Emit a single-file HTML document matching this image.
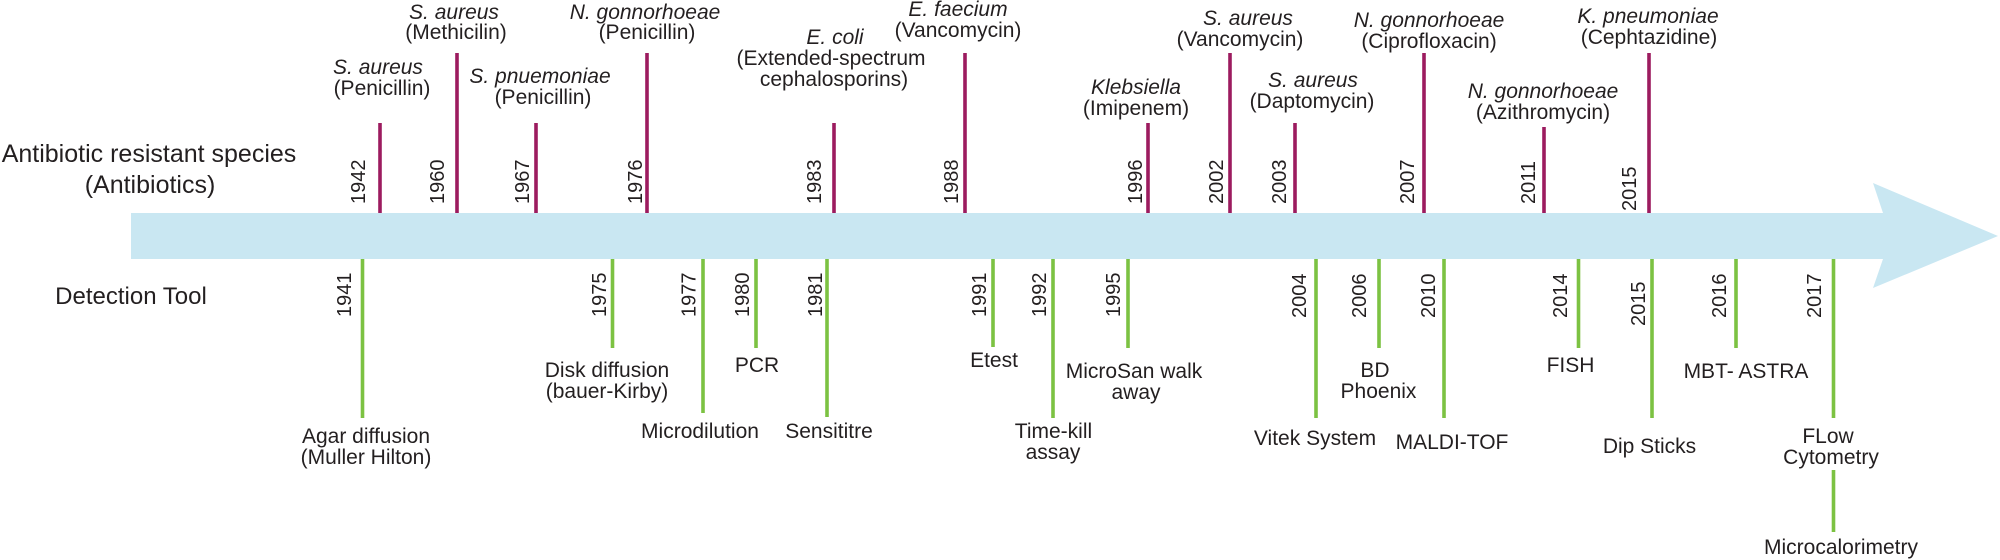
<!DOCTYPE html>
<html>
<head>
<meta charset="utf-8">
<style>
  html, body { margin: 0; padding: 0; background: #ffffff; }
  svg { display: block; }
  text { font-family: "Liberation Sans", Arial, sans-serif; fill: #231f20; }
  .lab { font-size: 21px; text-anchor: middle; }
  .it { font-style: italic; }
  .yr { font-size: 20px; }
  .hd { font-size: 25px; text-anchor: middle; }
  .mg { stroke: #9c1b5f; stroke-width: 3.6; }
  .gr { stroke: #7cc242; stroke-width: 3.6; }
</style>
</head>
<body>
<svg width="2000" height="560" viewBox="0 0 2000 560" xmlns="http://www.w3.org/2000/svg">
  <!-- Arrow -->
  <polygon points="131,213 1883,213 1873,183 1998,236 1873,288 1883,259 131,259" fill="#c9e7f2"/>

  <!-- Headings -->
  <text class="hd" x="149" y="162">Antibiotic resistant species</text>
  <text class="hd" x="150" y="193">(Antibiotics)</text>
  <text x="131" y="304" style="font-size:24px;text-anchor:middle">Detection Tool</text>

  <!-- Magenta (top) lines -->
  <line class="mg" x1="380" y1="123" x2="380" y2="213"/>
  <line class="mg" x1="457" y1="53" x2="457" y2="213"/>
  <line class="mg" x1="536" y1="123" x2="536" y2="213"/>
  <line class="mg" x1="647" y1="53" x2="647" y2="213"/>
  <line class="mg" x1="834" y1="123" x2="834" y2="213"/>
  <line class="mg" x1="965" y1="53" x2="965" y2="213"/>
  <line class="mg" x1="1148" y1="123" x2="1148" y2="213"/>
  <line class="mg" x1="1230" y1="53" x2="1230" y2="213"/>
  <line class="mg" x1="1295" y1="123" x2="1295" y2="213"/>
  <line class="mg" x1="1424" y1="53" x2="1424" y2="213"/>
  <line class="mg" x1="1544" y1="127" x2="1544" y2="213"/>
  <line class="mg" x1="1649" y1="53" x2="1649" y2="213"/>

  <!-- Top years -->
  <text class="yr" x="365" y="204" transform="rotate(-90 365 204)">1942</text>
  <text class="yr" x="444" y="204" transform="rotate(-90 444 204)">1960</text>
  <text class="yr" x="529" y="204" transform="rotate(-90 529 204)">1967</text>
  <text class="yr" x="642" y="204" transform="rotate(-90 642 204)">1976</text>
  <text class="yr" x="821" y="204" transform="rotate(-90 821 204)">1983</text>
  <text class="yr" x="958" y="204" transform="rotate(-90 958 204)">1988</text>
  <text class="yr" x="1142" y="204" transform="rotate(-90 1142 204)">1996</text>
  <text class="yr" x="1223" y="204" transform="rotate(-90 1223 204)">2002</text>
  <text class="yr" x="1286" y="204" transform="rotate(-90 1286 204)">2003</text>
  <text class="yr" x="1414" y="204" transform="rotate(-90 1414 204)">2007</text>
  <text class="yr" x="1535" y="204" transform="rotate(-90 1535 204)">2011</text>
  <text class="yr" x="1636" y="211" transform="rotate(-90 1636 211)">2015</text>

  <!-- Top labels -->
  <text class="lab it" x="378" y="74">S. aureus</text>
  <text class="lab" x="382" y="95">(Penicillin)</text>

  <text class="lab it" x="454" y="19">S. aureus</text>
  <text class="lab" x="456" y="39">(Methicilin)</text>

  <text class="lab it" x="540" y="83">S. pnuemoniae</text>
  <text class="lab" x="543" y="104">(Penicillin)</text>

  <text class="lab it" x="645" y="19">N. gonnorhoeae</text>
  <text class="lab" x="647" y="39">(Penicillin)</text>

  <text class="lab it" x="835" y="44">E. coli</text>
  <text class="lab" x="831" y="65">(Extended-spectrum</text>
  <text class="lab" x="834" y="86">cephalosporins)</text>

  <text class="lab it" x="958" y="16">E. faecium</text>
  <text class="lab" x="958" y="37">(Vancomycin)</text>

  <text class="lab it" x="1136" y="94">Klebsiella</text>
  <text class="lab" x="1136" y="115">(Imipenem)</text>

  <text class="lab it" x="1248" y="25">S. aureus</text>
  <text class="lab" x="1240" y="46">(Vancomycin)</text>

  <text class="lab it" x="1313" y="87">S. aureus</text>
  <text class="lab" x="1312" y="108">(Daptomycin)</text>

  <text class="lab it" x="1429" y="27">N. gonnorhoeae</text>
  <text class="lab" x="1429" y="48">(Ciprofloxacin)</text>

  <text class="lab it" x="1543" y="98">N. gonnorhoeae</text>
  <text class="lab" x="1543" y="119">(Azithromycin)</text>

  <text class="lab it" x="1648" y="23">K. pneumoniae</text>
  <text class="lab" x="1649" y="44">(Cephtazidine)</text>

  <!-- Green (bottom) lines -->
  <line class="gr" x1="362.5" y1="259" x2="362.5" y2="418"/>
  <line class="gr" x1="612.5" y1="259" x2="612.5" y2="348"/>
  <line class="gr" x1="703" y1="259" x2="703" y2="413"/>
  <line class="gr" x1="756" y1="259" x2="756" y2="348"/>
  <line class="gr" x1="827" y1="259" x2="827" y2="417"/>
  <line class="gr" x1="993" y1="259" x2="993" y2="347"/>
  <line class="gr" x1="1053" y1="259" x2="1053" y2="418"/>
  <line class="gr" x1="1128" y1="259" x2="1128" y2="348"/>
  <line class="gr" x1="1316" y1="259" x2="1316" y2="418"/>
  <line class="gr" x1="1379" y1="259" x2="1379" y2="348"/>
  <line class="gr" x1="1444" y1="259" x2="1444" y2="418"/>
  <line class="gr" x1="1578.5" y1="259" x2="1578.5" y2="348"/>
  <line class="gr" x1="1652" y1="259" x2="1652" y2="418"/>
  <line class="gr" x1="1736" y1="259" x2="1736" y2="348"/>
  <line class="gr" x1="1833.5" y1="259" x2="1833.5" y2="418"/>
  <line class="gr" x1="1833.5" y1="470" x2="1833.5" y2="532"/>

  <!-- Bottom years -->
  <text class="yr" x="351" y="317" transform="rotate(-90 351 317)">1941</text>
  <text class="yr" x="606" y="317" transform="rotate(-90 606 317)">1975</text>
  <text class="yr" x="695.5" y="317" transform="rotate(-90 695.5 317)">1977</text>
  <text class="yr" x="749" y="317" transform="rotate(-90 749 317)">1980</text>
  <text class="yr" x="822" y="317" transform="rotate(-90 822 317)">1981</text>
  <text class="yr" x="986" y="317" transform="rotate(-90 986 317)">1991</text>
  <text class="yr" x="1046" y="317" transform="rotate(-90 1046 317)">1992</text>
  <text class="yr" x="1120" y="317" transform="rotate(-90 1120 317)">1995</text>
  <text class="yr" x="1306" y="318" transform="rotate(-90 1306 318)">2004</text>
  <text class="yr" x="1366" y="318" transform="rotate(-90 1366 318)">2006</text>
  <text class="yr" x="1435" y="318" transform="rotate(-90 1435 318)">2010</text>
  <text class="yr" x="1567" y="318" transform="rotate(-90 1567 318)">2014</text>
  <text class="yr" x="1645" y="326" transform="rotate(-90 1645 326)">2015</text>
  <text class="yr" x="1726" y="318" transform="rotate(-90 1726 318)">2016</text>
  <text class="yr" x="1821" y="318" transform="rotate(-90 1821 318)">2017</text>

  <!-- Bottom labels -->
  <text class="lab" x="366" y="443">Agar diffusion</text>
  <text class="lab" x="366" y="464">(Muller Hilton)</text>

  <text class="lab" x="607" y="377">Disk diffusion</text>
  <text class="lab" x="607" y="398">(bauer-Kirby)</text>

  <text class="lab" x="700" y="438">Microdilution</text>

  <text class="lab" x="757" y="372">PCR</text>

  <text class="lab" x="829" y="438">Sensititre</text>

  <text class="lab" x="994" y="367">Etest</text>

  <text class="lab" x="1053.5" y="438">Time-kill</text>
  <text class="lab" x="1053" y="459">assay</text>

  <text class="lab" x="1134" y="378">MicroSan walk</text>
  <text class="lab" x="1136" y="399">away</text>

  <text class="lab" x="1315" y="445">Vitek System</text>

  <text class="lab" x="1375" y="377">BD</text>
  <text class="lab" x="1378.5" y="398">Phoenix</text>

  <text class="lab" x="1452" y="449">MALDI-TOF</text>

  <text class="lab" x="1570.5" y="372">FISH</text>

  <text class="lab" x="1649.5" y="453">Dip Sticks</text>

  <text class="lab" x="1746" y="378">MBT- ASTRA</text>

  <text class="lab" x="1828" y="443">FLow</text>
  <text class="lab" x="1831" y="464">Cytometry</text>

  <text class="lab" x="1841" y="554">Microcalorimetry</text>
</svg>
</body>
</html>
